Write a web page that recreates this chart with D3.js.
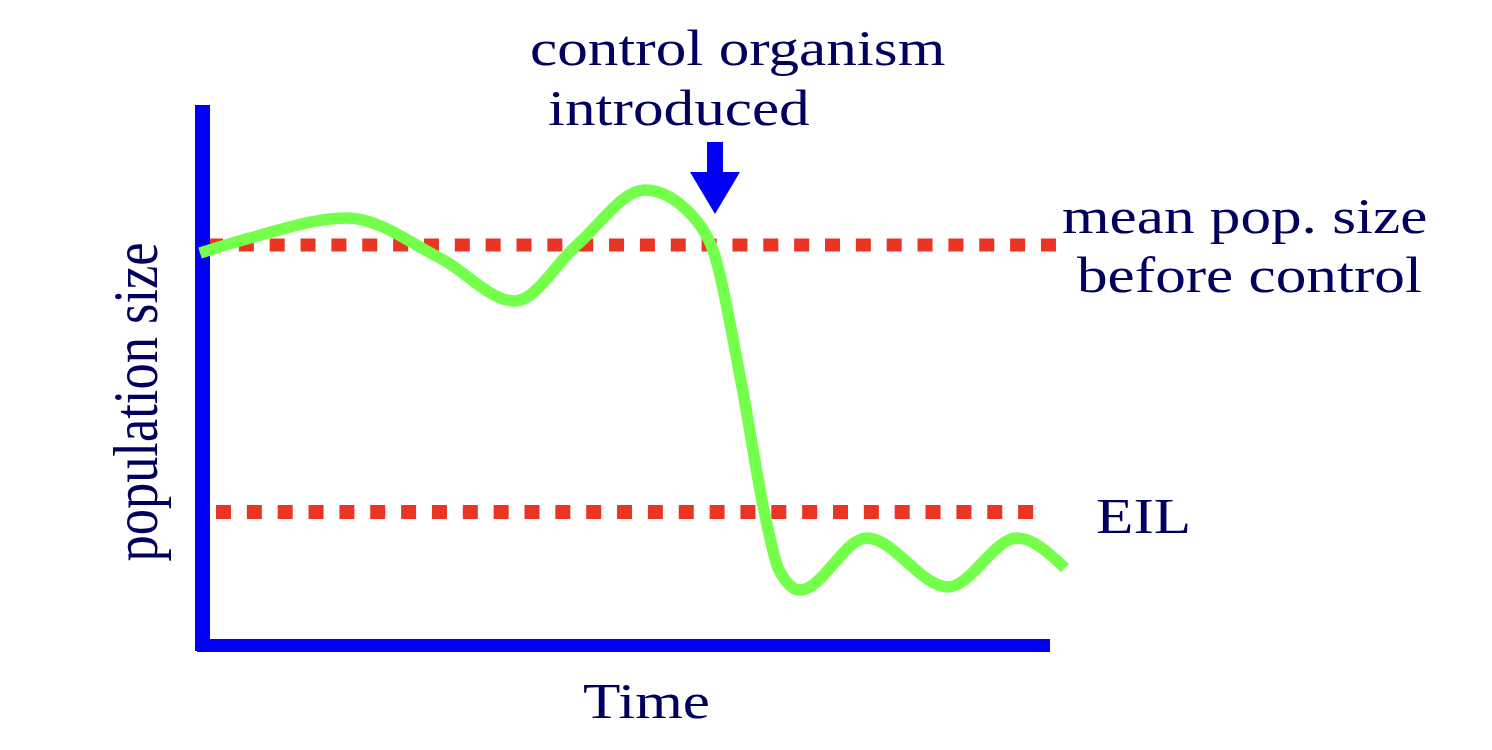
<!DOCTYPE html>
<html>
<head>
<meta charset="utf-8">
<script src="https://cdn.jsdelivr.net/npm/d3@7"></script>
<style>
  body { margin: 0; background: #fff; }
  text { font-family: "Liberation Serif", "Times New Roman", serif; fill: #00005e; }
</style>
</head>
<body>
<svg id="chart" width="1492" height="750"></svg>
<script>
// population curve (time units, population units)
var timePoints = [0, 10, 29.4, 48, 63, 75.4, 89, 99.2, 102.8, 108.4, 113.2, 115.8, 120, 133.4, 149.6, 163.4, 173];
var popValues = [78.4, 81.4, 85.4, 77.4, 68.8, 80, 91, 85, 78.4, 51.6, 25, 15, 11, 21.4, 11.6, 21.4, 15.4];

var meanLevel = 80;     // mean pop. size before control
var eilLevel = 26.6;    // economic injury level
var controlTime = 103;  // control organism introduced

var svg = d3.select("#chart");

var x = d3.scaleLinear().domain([0, 170]).range([200, 1050]);
var y = d3.scaleLinear().domain([0, 108]).range([645, 105]);

// threshold lines
var thresholds = [
  { v: meanLevel, x0: 1.6, x1: 171.2, w: 13 },
  { v: eilLevel, x0: 3.2, x1: 166.8, w: 14 }
];
svg.append("g").selectAll("line")
  .data(thresholds)
  .enter().append("line")
  .attr("x1", d => x(d.x0))
  .attr("x2", d => x(d.x1))
  .attr("y1", d => y(d.v))
  .attr("y2", d => y(d.v))
  .attr("stroke", "#ea3424")
  .attr("stroke-width", d => d.w)
  .attr("stroke-dasharray", "15 15.85");

// axes
var blue = "#0000f5";
svg.append("rect")
  .attr("x", x(0) - 5).attr("y", y(108))
  .attr("width", 15).attr("height", y(0) + 6 - y(108))
  .attr("fill", blue);
svg.append("rect")
  .attr("x", x(0) - 3).attr("y", y(0) - 6)
  .attr("width", x(170) - x(0) + 3).attr("height", 13)
  .attr("fill", blue);

// population line
var line = d3.line()
  .x((d, i) => x(timePoints[i]))
  .y(d => y(d))
  .curve(d3.curveMonotoneX);

svg.append("path")
  .datum(popValues)
  .attr("d", line)
  .attr("fill", "none")
  .attr("stroke", "#74ff4a")
  .attr("stroke-width", 11.5);

// arrow
var ax = x(controlTime);
svg.append("rect")
  .attr("x", ax - 8).attr("y", 142)
  .attr("width", 16).attr("height", 34)
  .attr("fill", blue);
svg.append("path")
  .attr("d", "M" + (ax - 25) + ",172 L" + (ax + 25) + ",172 L" + ax + ",214 Z")
  .attr("fill", blue);

// labels
var labels = [
  { t: "control organism", x: 530, y: 65 },
  { t: "introduced", x: 548, y: 125 },
  { t: "mean pop. size", x: 1062, y: 233 },
  { t: "before control", x: 1077, y: 292 },
  { t: "EIL", x: 1096, y: 533 },
  { t: "Time", x: 583, y: 718 }
];
svg.append("g").selectAll("text")
  .data(labels)
  .enter().append("text")
  .attr("transform", d => "translate(" + d.x + "," + d.y + ") scale(1.2,1)")
  .attr("font-size", 51)
  .text(d => d.t);

svg.append("text")
  .attr("transform", "translate(157,402) scale(1.2,1) rotate(-90)")
  .attr("text-anchor", "middle")
  .attr("font-size", 52.5)
  .text("population size");
</script>
</body>
</html>
